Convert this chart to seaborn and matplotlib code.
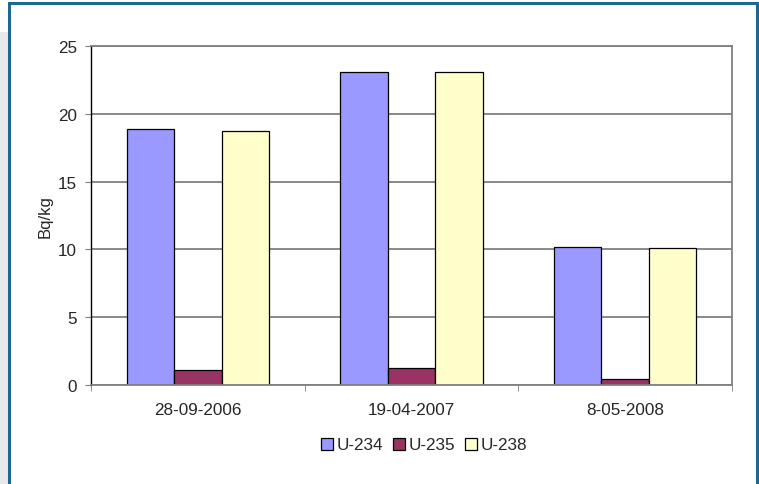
import pandas as pd
import seaborn as sns
import matplotlib.pyplot as plt
from matplotlib.patches import Rectangle
from matplotlib.ticker import FixedLocator

dates = ["28-09-2006", "19-04-2007", "8-05-2008"]
isotopes = ["U-234", "U-235", "U-238"]
u234 = [18.9, 23.1, 10.2]
u235 = [1.1, 1.25, 0.45]
u238 = [18.7, 23.1, 10.1]
colors = ["#9999FF", "#993366", "#FFFFCC"]

rows = []
for name, vals in zip(isotopes, [u234, u235, u238]):
    for d, v in zip(dates, vals):
        rows.append({"date": d, "isotope": name, "Bq/kg": v})
df = pd.DataFrame(rows)

sns.set_style("white")
plt.rcParams["font.family"] = ["Liberation Sans", "DejaVu Sans"]

fig = plt.figure(figsize=(7.59, 4.85), dpi=100)
# frame around the chart, as in the source page
fig.patches.append(Rectangle((0, 0), 9 / 759, 452 / 485, transform=fig.transFigure,
                             facecolor="#E8E9EB", edgecolor="none", zorder=0))
fig.patches.append(Rectangle((8.5 / 759, -0.05), 748 / 759, 1.05 - 4 / 485,
                             transform=fig.transFigure, facecolor="none",
                             edgecolor="#1D6790", linewidth=2.2, zorder=1))

ax = fig.add_axes([91 / 759, 99 / 485, 641 / 759, 339 / 485])
sns.barplot(data=df, x="date", y="Bq/kg", hue="isotope", palette=colors,
            width=0.665, saturation=1, edgecolor="black", linewidth=0.9, ax=ax)

ax.set_ylim(0, 25)
ax.set_xlim(-0.5, 2.5)
ax.set_yticks([0, 5, 10, 15, 20, 25])
ax.yaxis.grid(True, color="#808080", linewidth=1.3)
ax.set_axisbelow(True)
ax.set_xlabel("")
ax.set_ylabel("Bq/kg", fontsize=12, labelpad=4)
ax.tick_params(axis="y", length=4, color="#808080", labelsize=12.3, pad=6, left=True)
ax.tick_params(axis="x", which="major", length=0, labelsize=12.3, pad=12)
ax.xaxis.set_minor_locator(FixedLocator([-0.5, 0.5, 1.5, 2.5]))
ax.tick_params(axis="x", which="minor", length=4, color="#808080", bottom=True)

for s in ["top", "right", "bottom"]:
    ax.spines[s].set_color("#808080")
    ax.spines[s].set_linewidth(1.3)
ax.spines["left"].set_color("black")
ax.spines["left"].set_linewidth(1.0)

handles, labels = ax.get_legend_handles_labels()
ax.legend_.remove()
leg = fig.legend(handles, labels, loc="center", bbox_to_anchor=(424 / 759, 1 - 446 / 485),
                 ncol=3, frameon=False, fontsize=12.3, handlelength=0.7, handleheight=0.7,
                 handletextpad=0.2, columnspacing=0.6)

fig.savefig("out.png", dpi=100)
